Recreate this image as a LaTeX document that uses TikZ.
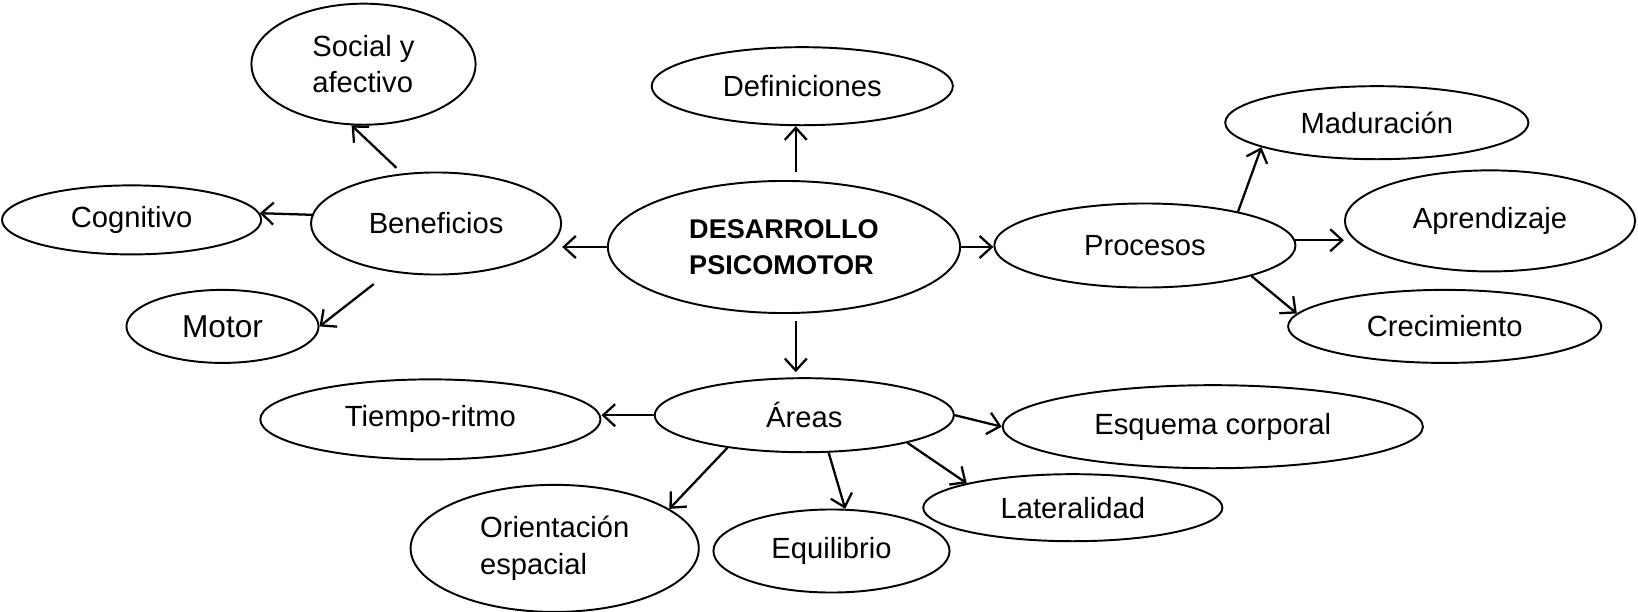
\documentclass[tikz,border=0pt]{standalone}
\usepackage{fontspec}
\setmainfont{Liberation Sans}
\usetikzlibrary{shapes.geometric,arrows.meta}
\begin{document}
\begin{tikzpicture}[x=0.01cm,y=-0.01cm,
    elip/.style={draw,ellipse,line width=0.55pt,inner sep=0pt,font=\fontsize{8.3}{10.4}\selectfont},
    flecha/.style={-{Straight Barb[length=1.2mm,width=2.2mm]},line width=0.65pt}]
    \useasboundingbox (0,0) rectangle (1638,612);
    % centro
    \node[elip,minimum width=3.52cm,minimum height=1.32cm,align=left,font=\fontsize{7.7}{10.2}\selectfont\bfseries] (des) at (784,247) {DESARROLLO\\PSICOMOTOR};
    \node[elip,minimum width=3.01cm,minimum height=0.78cm] (def) at (802.3,86.2) {Definiciones};
    \node[elip,minimum width=2.50cm,minimum height=1.02cm] (ben) at (436.1,223.5) {Beneficios};
    \node[elip,minimum width=3.01cm,minimum height=0.84cm] (pro) at (1144.9,245.5) {Procesos};
    \node[elip,minimum width=2.99cm,minimum height=0.74cm] (are) at (804.3,415.2) {Áreas};
    % beneficios
    \node[elip,minimum width=2.24cm,minimum height=1.21cm,align=left] (soc) at (363.5,64.2) {Social y\\afectivo};
    \node[elip,minimum width=2.59cm,minimum height=0.69cm] (cog) at (131.6,219.9) {Cognitivo};
    \node[elip,minimum width=1.92cm,minimum height=0.73cm,font=\fontsize{9}{11}\selectfont] (mot) at (222.5,326.4) {Motor};
    % procesos
    \node[elip,minimum width=3.03cm,minimum height=0.73cm] (mad) at (1376.8,122.7) {Maduración};
    \node[elip,minimum width=2.90cm,minimum height=1.01cm] (apr) at (1490,220.9) {Aprendizaje};
    \node[elip,minimum width=3.13cm,minimum height=0.73cm] (cre) at (1444.7,326.4) {Crecimiento};
    % areas
    \node[elip,minimum width=3.40cm,minimum height=0.80cm] (tie) at (430.4,419.4) {Tiempo-ritmo};
    \node[elip,minimum width=4.20cm,minimum height=0.83cm] (esq) at (1212.8,426.7) {Esquema corporal};
    \node[elip,minimum width=2.99cm,minimum height=0.67cm] (lat) at (1072.8,507.7) {Lateralidad};
    \node[elip,minimum width=2.88cm,minimum height=1.27cm,align=left] (ori) at (554.7,548.4) {Orientación\\espacial};
    \node[elip,minimum width=2.36cm,minimum height=0.83cm] (equ) at (831.5,551) {Equilibrio};
    % flechas
    \draw[flecha] (des.west) -- (des.west -| ben.east);
    \draw[flecha,shorten <=0.085cm] (des.80) -- (des.80 |- def.south);
    \draw[flecha] (des.east) -- (des.east -| pro.west);
    \draw[flecha,shorten <=0.07cm,shorten >=0.05cm] (des.-80) -- (des.-80 |- are.north);
    \draw[flecha,shorten <=0.08cm] (ben.124) -- (soc.-101);
    \draw[flecha] (ben.176) -- (cog.3);
    \draw[flecha,shorten <=0.2cm] (ben.-134) -- (mot.east);
    \draw[flecha] (pro.20) -- (mad.-168);
    \draw[flecha] (pro.2) -- (pro.2 -| apr.west);
    \draw[flecha] (pro.-16) -- (cre.175);
    \draw[flecha] (are.west) -- (are.west -| tie.east);
    \draw[flecha] (are.east) -- (esq.west);
    \draw[flecha] (are.-15) -- (lat.167);
    \draw[flecha] (are.-57) -- (equ.72);
    \draw[flecha] (are.-157) -- (ori.19);
\end{tikzpicture}
\end{document}
